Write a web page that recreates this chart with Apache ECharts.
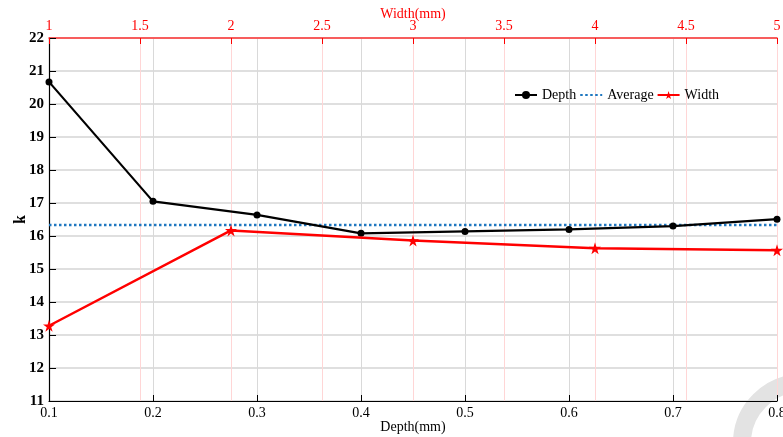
<!DOCTYPE html>
<html>
<head>
<meta charset="utf-8">
<script src="https://cdn.jsdelivr.net/npm/echarts@6/dist/echarts.min.js"></script>
<style>
  html, body { margin: 0; padding: 0; background: #fff; }
  #chart { width: 783px; height: 437px; }
</style>
</head>
<body>
<div id="chart"></div>
<script>
// Groove depth sweep (bottom axis) and groove width sweep (top axis) against k
const depthMm = [0.1, 0.2, 0.3, 0.4, 0.5, 0.6, 0.7, 0.8];
const depthK = [20.67, 17.05, 16.64, 16.08, 16.14, 16.20, 16.30, 16.51];
const widthMm = [1, 2, 3, 4, 5];
const widthK = [13.28, 16.17, 15.86, 15.63, 15.57];
const averageK = 16.33;
const legendNames = ['Depth', 'Average', 'Width'];

const FONT = '"Liberation Serif", "Times New Roman", serif';
const STAR = 'path://M50,0 L61,35 L98,35 L68,57 L79,91 L50,70 L21,91 L32,57 L2,35 L39,35 Z';

const chart = echarts.init(document.getElementById('chart'), null, { renderer: 'canvas' });

chart.setOption({
  animation: false,
  backgroundColor: '#ffffff',
  textStyle: { fontFamily: FONT },
  grid: { left: 49, right: 6, top: 38, bottom: 36, containLabel: false, outerBoundsMode: 'none' },
  graphic: [{
    type: 'circle',
    z: -10,
    silent: true,
    shape: { cx: 802, cy: 443, r: 60 },
    style: { fill: 'none', stroke: '#e3e3e3', lineWidth: 18 }
  }],
  legend: {
    data: [
      legendNames[0],
      { name: legendNames[1], itemStyle: { opacity: 0 } },
      legendNames[2]
    ],
    left: 509,
    top: 83,
    itemWidth: 22,
    itemHeight: 10,
    itemGap: 3,
    textStyle: { fontFamily: FONT, fontSize: 14, color: '#000' }
  },
  xAxis: [
    {
      type: 'value',
      position: 'bottom',
      min: 0.1, max: 0.8, interval: 0.1,
      name: 'Depth(mm)',
      nameLocation: 'middle',
      nameGap: 19,
      nameMoveOverlap: false,
      nameTextStyle: { fontFamily: FONT, fontSize: 14, color: '#000' },
      axisLine: { show: true, onZero: false, lineStyle: { color: '#000', width: 1.2 } },
      axisTick: { show: true, inside: true, length: 6, lineStyle: { color: '#000', width: 1 } },
      axisLabel: {
        margin: 5, fontFamily: FONT, fontSize: 14, color: '#000',
        formatter: v => (Math.round(v * 10) / 10).toString()
      },
      splitLine: { show: true, lineStyle: { color: '#d9d9d9', width: 1 } }
    },
    {
      type: 'value',
      position: 'top',
      min: 1, max: 5, interval: 0.5,
      name: 'Width(mm)',
      nameLocation: 'middle',
      nameGap: 17,
      nameMoveOverlap: false,
      nameTextStyle: { fontFamily: FONT, fontSize: 14, color: '#ff0000' },
      axisLine: { show: true, onZero: false, lineStyle: { color: '#ff3333', width: 1.5 } },
      axisTick: { show: true, inside: true, length: 6, lineStyle: { color: '#ff0000', width: 1 } },
      axisLabel: { margin: 5, fontFamily: FONT, fontSize: 14, color: '#ff0000' },
      splitLine: { show: true, lineStyle: { color: '#ffd6d6', width: 1 } }
    }
  ],
  yAxis: {
    type: 'value',
    min: 11, max: 22, interval: 1,
    name: 'k',
    nameLocation: 'middle',
    nameGap: 20,
    nameMoveOverlap: false,
    nameTextStyle: { fontFamily: FONT, fontSize: 16, fontWeight: 'bold', color: '#000' },
    axisLine: { show: true, onZero: false, lineStyle: { color: '#000', width: 1.2 } },
    axisTick: { show: true, inside: true, length: 7, lineStyle: { color: '#000', width: 1 } },
    axisLabel: { margin: 5, fontFamily: FONT, fontSize: 15, fontWeight: 'bold', color: '#000' },
    splitLine: { show: true, lineStyle: { color: '#d4d4d4', width: 1.5 } }
  },
  series: [
    {
      name: 'Depth',
      type: 'line',
      xAxisIndex: 0,
      data: depthMm.map((d, i) => [d, depthK[i]]),
      symbol: 'circle',
      symbolSize: 7,
      itemStyle: { color: '#000' },
      lineStyle: { color: '#000', width: 2.2 },
      z: 3
    },
    {
      name: 'Average',
      type: 'line',
      xAxisIndex: 0,
      data: [[depthMm[0], averageK], [depthMm[depthMm.length - 1], averageK]],
      symbol: 'none',
      itemStyle: { color: '#1f77c0' },
      lineStyle: { color: '#1f77c0', width: 2.5, type: [2.5, 2.5] },
      z: 2
    },
    {
      name: 'Width',
      type: 'line',
      xAxisIndex: 1,
      data: widthMm.map((w, i) => [w, widthK[i]]),
      symbol: STAR,
      symbolSize: 12,
      itemStyle: { color: '#ff0000' },
      lineStyle: { color: '#ff0000', width: 2.5 },
      z: 4
    }
  ]
});
</script>
</body>
</html>
